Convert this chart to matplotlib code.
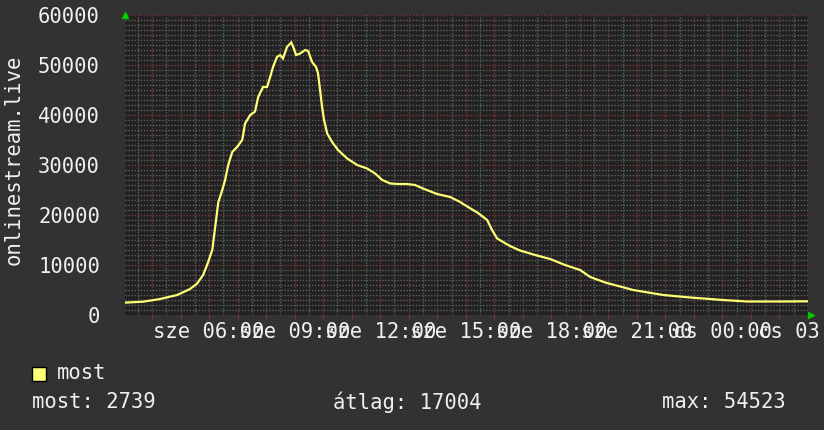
import numpy as np
import matplotlib
matplotlib.use("Agg")
import matplotlib.pyplot as plt

# --- données : heures depuis minuit du premier jour ---
hours = [3.05, 3.69, 4.28, 4.88, 5.33, 5.58, 5.79, 5.96, 6.11, 6.21, 6.32, 6.46,
         6.56, 6.67, 6.81, 6.98, 7.16, 7.26, 7.44, 7.61, 7.72, 7.89, 8.03, 8.14,
         8.24, 8.38, 8.49, 8.59, 8.73, 8.88, 8.95, 9.05, 9.19, 9.37, 9.47, 9.61,
         9.75, 9.82, 9.89, 9.96, 10.03, 10.14, 10.31, 10.52, 10.84, 11.19, 11.54,
         11.82, 12.07, 12.35, 12.63, 12.94, 13.22, 13.50, 13.99, 14.45, 14.80,
         15.08, 15.43, 15.75, 15.92, 16.10, 16.31, 16.55, 16.90, 17.43, 17.96,
         18.48, 19.01, 19.36, 19.89, 20.87, 21.92, 22.87, 24.02, 24.86, 26.02, 27.00]
values = [2470, 2670, 3200, 4000, 5200, 6300, 8000, 10500, 13000, 17500, 22500, 25000,
          27000, 30000, 32600, 33600, 35000, 38300, 40000, 40700, 43600, 45600, 45600, 47600,
          49600, 51600, 52000, 51300, 53600, 54523, 53600, 52000, 52300, 53000, 52800, 50600,
          49600, 48300, 45000, 41600, 39000, 36300, 34600, 33000, 31300, 30000, 29300,
          28300, 27000, 26300, 26200, 26200, 26000, 25300, 24200, 23600, 22600,
          21600, 20400, 19000, 17000, 15300, 14600, 13800, 12900, 12000, 11200,
          10000, 9000, 7600, 6500, 5000, 4000, 3500, 3000, 2700, 2700, 2739]

tick_hours = [6, 9, 12, 15, 18, 21, 24, 27]
tick_labels = ["sze 06:00", "sze 09:00", "sze 12:00", "sze 15:00",
               "sze 18:00", "sze 21:00", "cs 00:00", "cs 03:00"]
y_ticks = [0, 10000, 20000, 30000, 40000, 50000, 60000]

series_name = "most"
stat_now = 2739
stat_avg = 17004
stat_max = 54523

# --- couleurs ---
bg = "#323232"
canvas = "#212121"
txt = "#f0f0f0"
line_col = "#ffff77"
major_col = "#7a3838"
minor_col = "#606060"

W, H = 824, 430
fig = plt.figure(figsize=(W / 100, H / 100), dpi=100, facecolor=bg)
ax = fig.add_axes([125 / W, (H - 315) / H, 683 / W, 300 / H], facecolor=canvas)

x0, x1 = 3.05, 27.0
ax.set_xlim(x0, x1)
ax.set_ylim(0, 60000)

# grille mineure / majeure
dots = (0, (1, 1.2))
for h in np.arange(3.5, 27.01, 1.0):
    ax.axvline(h, color=minor_col, lw=1.0, ls=dots, zorder=1)
for h in np.arange(4, 27.01, 1.0):
    ax.axvline(h, color=major_col, lw=1.0, ls=dots, zorder=1)
for v in range(1000, 60000, 1000):
    if v % 10000:
        ax.axhline(v, color=minor_col, lw=1.0, ls=dots, zorder=1)
for v in range(10000, 60001, 10000):
    ax.axhline(v, color=major_col, lw=1.0, ls=dots, zorder=1)

ax.plot(hours, values, color=line_col, lw=1.6, zorder=3, solid_joinstyle="miter")

for s in ax.spines.values():
    s.set_visible(False)

mono = "DejaVu Sans Mono"
ax.set_xticks(tick_hours)
ax.set_xticklabels(tick_labels, family=mono, fontsize=14.8, color=txt)
ax.set_xticks(np.arange(4, 27.01, 1.0), minor=True)
ax.tick_params(axis="x", which="both", color=major_col, length=3, width=0.8, pad=2)
ax.set_yticks(y_ticks)
ax.set_yticklabels([str(v) for v in y_ticks], family=mono, fontsize=14.8, color=txt)
ax.tick_params(axis="y", length=0, pad=18)

# flèches vertes des axes
ax.plot([x0], [60000], marker="^", color="#00cc00", ms=5, clip_on=False, zorder=5)
ax.plot([x1 + 0.1], [0], marker=">", color="#00cc00", ms=5, clip_on=False, zorder=5)

fig.text(14 / W, 1 - 160 / H, "onlinestream.live", rotation=90, family=mono,
         fontsize=14.8, color=txt, ha="center", va="center")

# légende
fig.patches.append(plt.Rectangle((32 / W, 1 - 381 / H), 14 / W, 14 / H,
                                 transform=fig.transFigure, facecolor=line_col,
                                 edgecolor="black", lw=1))
fig.text(57 / W, 1 - 373 / H, series_name, family=mono, fontsize=14.8, color=txt,
         va="center")
fig.text(32 / W, 1 - 402 / H, f"most: {stat_now}", family=mono, fontsize=14.8,
         color=txt, va="center")
fig.text(333 / W, 1 - 402 / H, f"átlag: {stat_avg}", family=mono, fontsize=14.8,
         color=txt, va="center")
fig.text(662 / W, 1 - 402 / H, f"max: {stat_max}", family=mono, fontsize=14.8,
         color=txt, va="center")

fig.savefig("out.png", dpi=100, facecolor=bg)
